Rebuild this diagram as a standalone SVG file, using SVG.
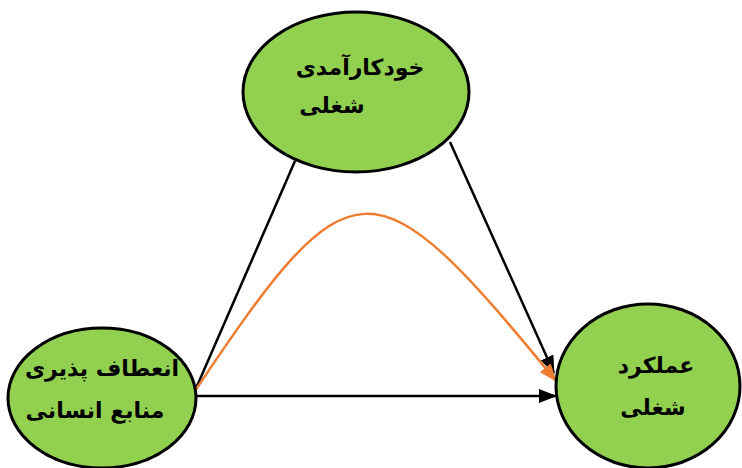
<svg xmlns="http://www.w3.org/2000/svg" width="742" height="468" viewBox="0 0 742 468">
<style>
.node{fill:#92D050;stroke:#000;stroke-width:3}
.lbl{font-family:"DejaVu Sans",sans-serif;font-size:22px;font-weight:bold;fill:#000;text-anchor:middle}
.edge{fill:none;stroke:#000;stroke-width:2.5}
.orange{fill:none;stroke:#ED7D31;stroke-width:2.5}
</style>
<defs>
<marker id="ab" markerUnits="userSpaceOnUse" markerWidth="18" markerHeight="14" refX="17" refY="7" orient="auto"><path d="M0,0 L18,7 L0,14 z" fill="#000"/></marker>
<marker id="ao" markerUnits="userSpaceOnUse" markerWidth="18" markerHeight="14" refX="17" refY="7" orient="auto"><path d="M0,0 L18,7 L0,14 z" fill="#ED7D31"/></marker>
</defs>
<g id="connectors">
<line class="edge" x1="194" y1="393" x2="295" y2="161"/>
<line class="edge" x1="450" y1="142" x2="554" y2="373" marker-end="url(#ab)"/>
<line class="edge" x1="190" y1="396" x2="556" y2="396" marker-end="url(#ab)"/>
<path class="orange" d="M193,394 C352,156 372,156 556,381" marker-end="url(#ao)"/>
</g>
<g id="node-top">
<ellipse class="node" cx="356" cy="92" rx="113" ry="80"/>
<text class="lbl" x="360" y="75" direction="rtl">خودکارآمدی</text>
<text class="lbl" x="332" y="113" direction="rtl">شغلی</text>
</g>
<g id="node-left">
<ellipse class="node" cx="102" cy="398" rx="94" ry="70"/>
<text class="lbl" x="102" y="376" direction="rtl">انعطاف پذیری</text>
<text class="lbl" x="95" y="418" direction="rtl">منابع انسانی</text>
</g>
<g id="node-right">
<ellipse class="node" cx="648" cy="386" rx="92" ry="82"/>
<text class="lbl" x="656" y="373" direction="rtl">عملکرد</text>
<text class="lbl" x="653" y="415" direction="rtl">شغلی</text>
</g>
</svg>
